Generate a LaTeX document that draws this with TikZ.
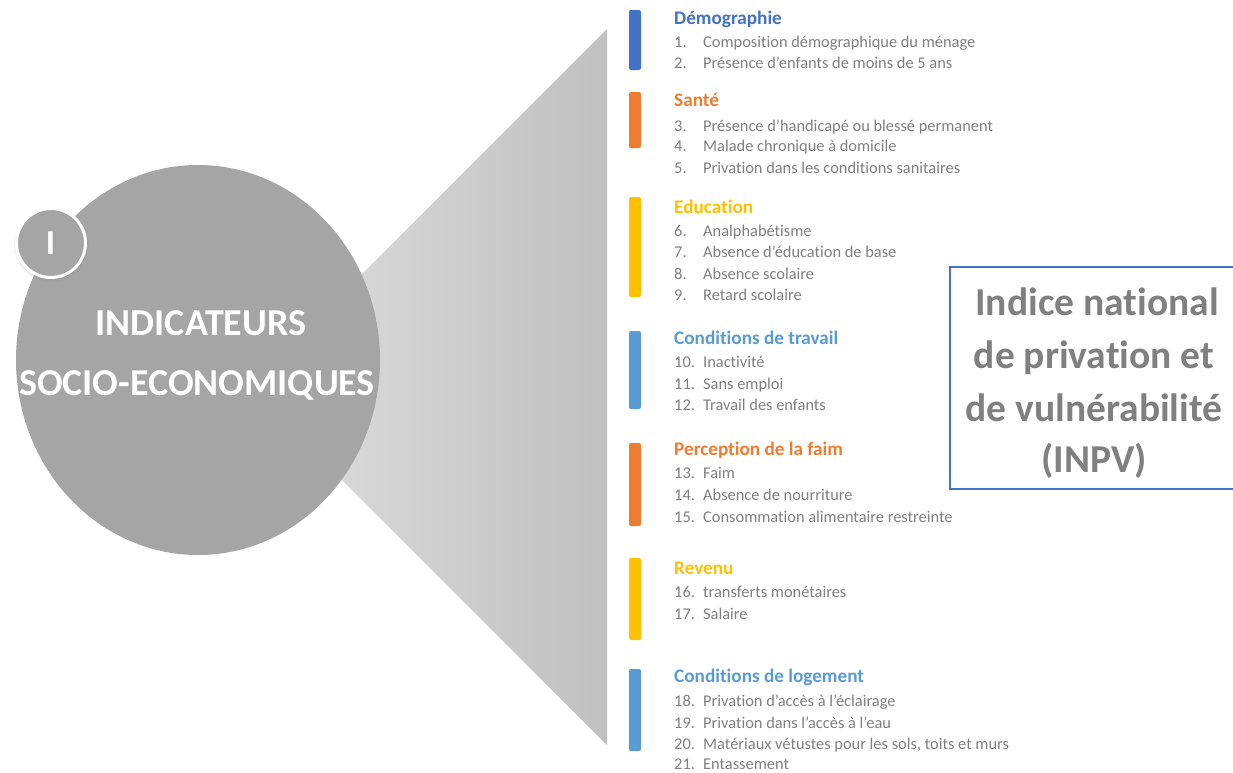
\documentclass[tikz,border=0pt]{standalone}
\usepackage{fontspec}
\setmainfont{Carlito}[Ligatures=NoCommon]
\usetikzlibrary{shapes.geometric,shadows}
\definecolor{circgray}{HTML}{A5A5A5}
\definecolor{trapL}{HTML}{E0E0E0}
\definecolor{trapR}{HTML}{C0C0C0}
\definecolor{itemgray}{HTML}{808080}
\definecolor{cblue}{HTML}{4472C4}
\definecolor{cblue2}{HTML}{5B9BD5}
\definecolor{corange}{HTML}{ED7D31}
\definecolor{cgold}{HTML}{FFC000}
\begin{document}
\begin{tikzpicture}[x=1pt,y=-1pt,
  hdr/.style={anchor=base west,inner sep=0pt,font=\fontsize{19.2}{19}\selectfont\bfseries},
  itm/.style={anchor=base west,inner sep=0pt,text=itemgray,font=\fontsize{16.4}{16}\selectfont},
  bar/.style={rounded corners=2pt},
  bigw/.style={anchor=base,inner sep=0pt,text=white,font=\fontsize{38}{38}\selectfont\bfseries},
  boxt/.style={anchor=base,inner sep=0pt,text=itemgray,font=\fontsize{39.5}{39}\selectfont\bfseries}
]
\useasboundingbox (0,0) rectangle (1233,772);
\clip (0,0) rectangle (1233,772);
\fill[white] (0,0) rectangle (1233,772);

% funnel
\shade[left color=trapL,right color=trapR] (607,29) -- (607,745) -- (249,387) -- cycle;

% big circle
\node[ellipse,fill=circgray,minimum width=364pt,minimum height=390pt,inner sep=0pt] (circ) at (198,360) {};
\node[bigw] (ind) at (201,335) {INDICATEURS};
\node[bigw] (soc) at (197,395) {SOCIO-ECONOMIQUES};

% badge
\node[circle,fill=circgray,draw=white,line width=3pt,minimum size=69pt,inner sep=0pt,
  circular drop shadow={shadow xshift=0pt,shadow yshift=-1.5pt,opacity=0.35}] (badge) at (51,243) {};
\node[anchor=center,text=white,font=\fontsize{35}{35}\selectfont\bfseries] (badgeI) at (50.5,243) {I};

% bars
\fill[cblue,bar] (629,10) rectangle (641,70);
\fill[corange,bar] (629,92) rectangle (641,148);
\fill[cgold,bar] (629,197) rectangle (641,297);
\fill[cblue2,bar] (629,331) rectangle (641,409);
\fill[corange,bar] (629,443) rectangle (641,526);
\fill[cgold,bar] (629,558) rectangle (641,640);
\fill[cblue2,bar] (629,669) rectangle (641,751);

% Demographie
\node[hdr,text=cblue] (h1) at (674,24) {Démographie};
\node[itm] (n1) at (674,47) {1.};  \node[itm] (t1) at (703,47) {Composition démographique du ménage};
\node[itm] (n2) at (674,68) {2.};  \node[itm] (t2) at (703,68) {Présence d’enfants de moins de 5 ans};
% Sante
\node[hdr,text=corange] (h2) at (674,106) {Santé};
\node[itm] (n3) at (674,131) {3.}; \node[itm] (t3) at (703,131) {Présence d’handicapé ou blessé permanent};
\node[itm] (n4) at (674,151) {4.}; \node[itm] (t4) at (703,151) {Malade chronique à domicile};
\node[itm] (n5) at (674,173) {5.}; \node[itm] (t5) at (703,173) {Privation dans les conditions sanitaires};
% Education
\node[hdr,text=cgold] (h3) at (674,213) {Education};
\node[itm] (n6) at (674,236) {6.}; \node[itm] (t6) at (703,236) {Analphabétisme};
\node[itm] (n7) at (674,257) {7.}; \node[itm] (t7) at (703,257) {Absence d’éducation de base};
\node[itm] (n8) at (674,279) {8.}; \node[itm] (t8) at (703,279) {Absence scolaire};
\node[itm] (n9) at (674,300) {9.}; \node[itm] (t9) at (703,300) {Retard scolaire};
% Travail
\node[hdr,text=cblue2] (h4) at (674,344) {Conditions de travail};
\node[itm] (n10) at (674,367) {10.}; \node[itm] (t10) at (703,367) {Inactivité};
\node[itm] (n11) at (674,389) {11.}; \node[itm] (t11) at (703,389) {Sans emploi};
\node[itm] (n12) at (674,410) {12.}; \node[itm] (t12) at (703,410) {Travail des enfants};
% Faim
\node[hdr,text=corange] (h5) at (674,455) {Perception de la faim};
\node[itm] (n13) at (674,478) {13.}; \node[itm] (t13) at (703,478) {Faim};
\node[itm] (n14) at (674,500) {14.}; \node[itm] (t14) at (703,500) {Absence de nourriture};
\node[itm] (n15) at (674,522) {15.}; \node[itm] (t15) at (703,522) {Consommation alimentaire restreinte};
% Revenu
\node[hdr,text=cgold] (h6) at (674,574) {Revenu};
\node[itm] (n16) at (674,597) {16.}; \node[itm] (t16) at (703,597) {transferts monétaires};
\node[itm] (n17) at (674,619) {17.}; \node[itm] (t17) at (703,619) {Salaire};
% Logement
\node[hdr,text=cblue2] (h7) at (674,682) {Conditions de logement};
\node[itm] (n18) at (674,706) {18.}; \node[itm] (t18) at (703,706) {Privation d’accès à l’éclairage};
\node[itm] (n19) at (674,728) {19.}; \node[itm] (t19) at (703,728) {Privation dans l’accès à l’eau};
\node[itm] (n20) at (674,749) {20.}; \node[itm] (t20) at (703,749) {Matériaux vétustes pour les sols, toits et murs};
\node[itm] (n21) at (674,769.5) {21.}; \node[itm] (t21) at (703,769.5) {Entassement};

% INPV box
\draw[cblue,line width=1.5pt] (1245,267) -| (950,489) -- (1245,489);
\node[boxt] (b1) at (1097,315) {Indice national};
\node[boxt] (b2) at (1094,368) {de privation et};
\node[boxt] (b3) at (1094,421) {de vulnérabilité};
\node[boxt] (b4) at (1094,472) {(INPV)};
\end{tikzpicture}
\end{document}
